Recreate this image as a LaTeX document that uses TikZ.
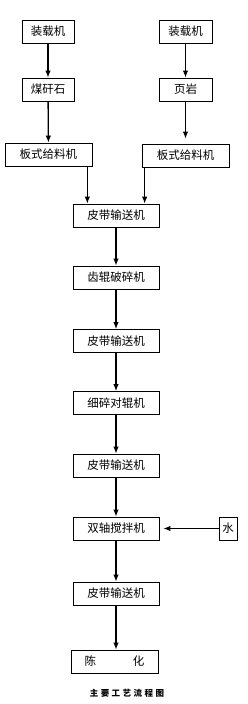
\documentclass[tikz,border=0pt]{standalone}
\usepackage{fontspec}
\setmainfont{Noto Sans CJK SC}
\usetikzlibrary{arrows.meta}

\begin{document}
\begin{tikzpicture}[x=1pt,y=-1pt,
    box/.style={draw,line width=.7pt,minimum height=23pt,inner sep=0pt,font=\fontsize{11.5}{11.5}\selectfont},
    arr/.style={-{Latex[length=7pt,width=5.5pt]},line width=1.3pt}]
  \useasboundingbox (0,0) rectangle (248,704);
  % two feed lines
  \node[box,minimum width=52pt] (zz1) at (48,31.5) {装载机};
  \node[box,minimum width=53pt] (zz2) at (185.5,31.5) {装载机};
  \node[box,minimum width=52pt] (mgs) at (48,89.5) {煤矸石};
  \node[box,minimum width=53pt] (yy) at (185.5,89.5) {页岩};
  \node[box,minimum width=87pt] (bs1) at (48.5,154.5) {板式给料机};
  \node[box,minimum width=87pt] (bs2) at (185.5,155.5) {板式给料机};
  % main line
  \node[box,minimum width=86pt] (pd1) at (116,215.5) {皮带输送机};
  \node[box,minimum width=86pt] (cg) at (116,277.5) {齿辊破碎机};
  \node[box,minimum width=86pt] (pd2) at (116,341) {皮带输送机};
  \node[box,minimum width=86pt] (xs) at (116,403) {细碎对辊机};
  \node[box,minimum width=86pt] (pd3) at (116,465.5) {皮带输送机};
  \node[box,minimum width=86pt] (sz) at (116,528.5) {双轴搅拌机};
  \node[box,minimum width=18pt] (shui) at (228,528.5) {水};
  \node[box,minimum width=86pt] (pd4) at (116,593.5) {皮带输送机};
  \node[box,minimum width=87pt] (ch) at (114.5,661.5) {陈\hspace{3.2em}化};
  \node[font=\fontsize{8.5}{8.5}\selectfont\bfseries] (tt) at (127,693)
    {主\hspace{2.5pt}要\hspace{2.5pt}工\hspace{2.5pt}艺\hspace{2.5pt}流\hspace{2.5pt}程\hspace{2.5pt}图};

  \draw[arr] (zz1) -- (mgs);
  \draw[arr] (zz2) -- (yy);
  \draw[arr] (mgs) -- (bs1);
  \draw[arr,shorten >=5pt] (yy) -- (bs2);
  \draw[arr] ([xshift=-5pt]bs1.south east) -- ([xshift=-5pt]bs1.south east |- pd1.north);
  \draw[arr] ([xshift=3pt]bs2.south west) -- ([xshift=3pt]bs2.south west |- pd1.north);
  \draw[arr] (pd1) -- (cg);
  \draw[arr] (cg) -- (pd2);
  \draw[arr] (pd2) -- (xs);
  \draw[arr] (xs) -- (pd3);
  \draw[arr] (pd3) -- (sz);
  \draw[arr,shorten >=4pt] (shui) -- (sz);
  \draw[arr] (sz) -- (pd4);
  \draw[arr] (pd4) -- (pd4 |- ch.north);
\end{tikzpicture}
\end{document}
